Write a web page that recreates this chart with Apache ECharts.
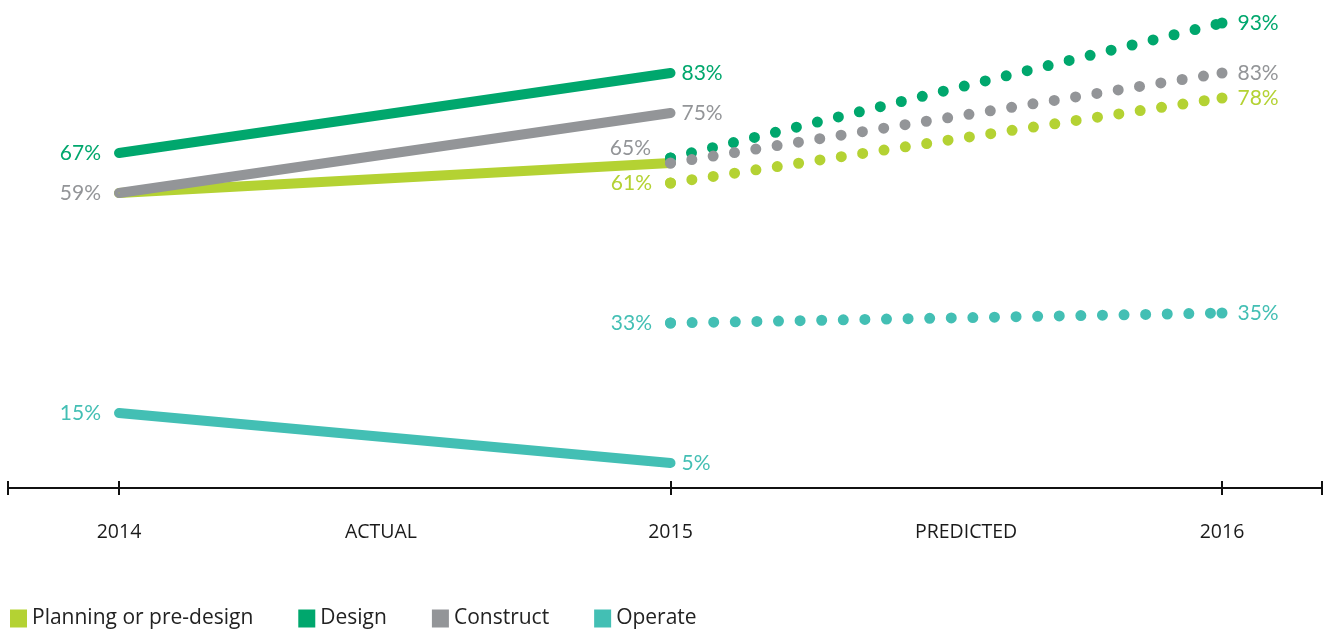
<!DOCTYPE html>
<html>
<head>
<meta charset="utf-8">
<script src="https://cdn.jsdelivr.net/npm/echarts@6/dist/echarts.min.js"></script>
<style>
  html, body { margin: 0; padding: 0; background: #fff; }
  #chart { width: 1332px; height: 630px; }
</style>
</head>
<body>
<div id="chart"></div>
<script>
// Stage names and colours
const seriesNames = ['Planning or pre-design', 'Design', 'Construct', 'Operate'];
const seriesColors = ['#b4d233', '#00a76d', '#939598', '#43bfb4'];

// Years covered by the two periods
const actualYears = [2014, 2015];
const predictedYears = [2015, 2016];

// Actual share (%), 2014 -> 2015
const actualPlanning = [59, 65];
const actualDesign = [67, 83];
const actualConstruct = [59, 75];
const actualOperate = [15, 5];

// Predicted share (%), 2015 -> 2016
const predictedPlanning = [61, 78];
const predictedDesign = [66, 93];
const predictedConstruct = [65, 83];
const predictedOperate = [33, 35];

// Labels along the time axis
const axisLabels = ['2014', 'ACTUAL', '2015', 'PREDICTED', '2016'];

// ---- layout ----
const X_MIN = 2013.7987, X_MAX = 2016.1813;
const axisLabelAt = [2014, 2014.475, 2015, 2015.536, 2016];
const FONT = 'Lato, "Open Sans", sans-serif';
const TEXT_FONT = '"Open Sans", Lato, sans-serif';

function labelFor(place, predicted) {
  if (!place) return { show: false };
  const base = { show: true, fontFamily: FONT, fontSize: 21, formatter: p => p.value[1] + '%' };
  if (place === 'left') return Object.assign(base, { position: 'left', distance: predicted ? 13 : 17 });
  if (place === 'right') return Object.assign(base, { position: 'right', distance: 10 });
  if (place === 'upLeft') return Object.assign(base, { position: 'left', distance: 14, offset: [0, -15] });
  return { show: false };
}

function makeSeries(idx, years, values, places, predicted) {
  const color = seriesColors[idx];
  return {
    type: 'line',
    name: seriesNames[idx],
    data: years.map((y, i) => ({
      value: [y, values[i]],
      label: Object.assign(labelFor(places[i], predicted), { color: color })
    })),
    symbol: 'circle',
    symbolSize: predicted ? 11 : 2,
    showSymbol: true,
    itemStyle: { color: color, borderWidth: 0 },
    lineStyle: predicted
      ? { color: color, width: 11, type: [0, 21.6], cap: 'round' }
      : { color: color, width: 10, cap: 'round' },
    emphasis: { disabled: true },
    silent: true,
    animation: false,
    z: predicted ? 3 : 2
  };
}

const series = [
  makeSeries(0, actualYears, actualPlanning, [null, null], false),
  makeSeries(1, actualYears, actualDesign, ['left', 'right'], false),
  makeSeries(2, actualYears, actualConstruct, ['left', 'right'], false),
  makeSeries(3, actualYears, actualOperate, ['left', 'right'], false),
  makeSeries(0, predictedYears, predictedPlanning, ['left', 'right'], true),
  makeSeries(1, predictedYears, predictedDesign, [null, 'right'], true),
  makeSeries(2, predictedYears, predictedConstruct, ['upLeft', 'right'], true),
  makeSeries(3, predictedYears, predictedOperate, ['left', 'right'], true)
];

const tickValues = [X_MIN, 2014, 2015, 2016, X_MAX];
const axisLineStyle = { show: true, lineStyle: { color: '#111', width: 2 } };

const option = {
  backgroundColor: '#fff',
  animation: false,
  grid: { left: 8, right: 10, top: 8, bottom: 142, containLabel: false },
  xAxis: [
    {
      type: 'value', min: X_MIN, max: X_MAX, position: 'bottom',
      axisLine: axisLineStyle,
      splitLine: { show: false },
      axisTick: { show: true, inside: false, length: 7, customValues: tickValues,
                  lineStyle: { color: '#111', width: 2 } },
      axisLabel: {
        show: true, customValues: axisLabelAt, margin: 34,
        fontFamily: TEXT_FONT, fontSize: 19.5, color: '#1a1a1a',
        formatter: v => axisLabels[axisLabelAt.indexOf(v)] || ''
      }
    },
    {
      type: 'value', min: X_MIN, max: X_MAX, position: 'bottom',
      axisLine: axisLineStyle,
      splitLine: { show: false },
      axisTick: { show: true, inside: true, length: 7, customValues: tickValues,
                  lineStyle: { color: '#111', width: 2 } },
      axisLabel: { show: false }
    }
  ],
  yAxis: { type: 'value', min: 0, max: 96, show: false },
  legend: {
    data: seriesNames.map(n => ({ name: n, icon: 'rect' })),
    left: 10, top: 608, padding: 0,
    itemWidth: 17, itemHeight: 18, itemGap: 45,
    selectedMode: false,
    itemStyle: { borderWidth: 0 },
    textStyle: { fontFamily: TEXT_FONT, fontSize: 21, color: '#222', padding: [0, 0, 0, 0] }
  },
  series: series
};

const chart = echarts.init(document.getElementById('chart'), null, { renderer: 'canvas' });
chart.setOption(option);
</script>
</body>
</html>
